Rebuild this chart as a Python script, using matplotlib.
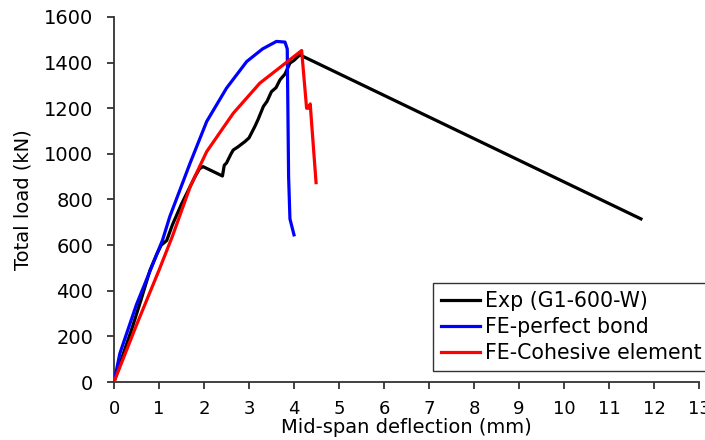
import numpy as np
import matplotlib.pyplot as plt

plt.rcParams['font.family'] = ['DejaVu Sans']

# Exp (G1-600-W)
exp_x = [0, 0.2, 0.4, 0.6, 0.8, 0.95, 1.05, 1.17, 1.3, 1.5, 1.65, 1.8, 1.9, 1.98, 2.41,
         2.45, 2.5, 2.6, 2.65, 2.75, 2.91, 3.0, 3.13, 3.2, 3.32, 3.4, 3.5, 3.6, 3.69,
         3.8, 3.91, 4.0, 4.13, 11.71]
exp_y = [0, 120, 235, 360, 490, 560, 600, 620, 690, 780, 840, 900, 935, 944, 903,
         950, 960, 1000, 1017, 1030, 1054, 1070, 1120, 1150, 1208, 1230, 1273, 1290, 1325,
         1350, 1398, 1410, 1434, 715]

# FE-perfect bond
pb_x = [0, 0.13, 0.5, 1.08, 1.24, 1.69, 2.06, 2.5, 2.95, 3.3, 3.61, 3.8, 3.85, 3.88, 3.91, 4.0]
pb_y = [0, 125, 340, 623, 725, 959, 1142, 1288, 1405, 1460, 1493, 1490, 1460, 900, 715, 645]

# FE-Cohesive element
ce_x = [0, 0.5, 1.0, 1.3, 1.7, 2.06, 2.65, 3.24, 3.76, 4.17, 4.28, 4.33, 4.36, 4.49]
ce_y = [0, 250, 490, 640, 860, 1010, 1178, 1310, 1390, 1453, 1200, 1200, 1219, 874]

fig = plt.figure(figsize=(7.05, 4.4), dpi=100)
ax = fig.add_axes([114/705, 58/440, 585/705, 365/440])

ax.plot(exp_x, exp_y, color='black', lw=2.3, label='Exp (G1-600-W)', zorder=2)
ax.plot(pb_x, pb_y, color='#0000ff', lw=2.3, label='FE-perfect bond', zorder=3)
ax.plot(ce_x, ce_y, color='#ff0000', lw=2.3, label='FE-Cohesive element', zorder=4)

ax.set_xlim(0, 13)
ax.set_ylim(0, 1600)
ax.set_xticks(np.arange(0, 14, 1))
ax.set_yticks(np.arange(0, 1601, 200))
ax.spines['top'].set_visible(False)
ax.spines['right'].set_visible(False)
for s in ['left', 'bottom']:
    ax.spines[s].set_linewidth(1.3)
    ax.spines[s].set_color('#333333')
ax.tick_params(direction='out', length=5, width=1.3, color='#333333')
ax.tick_params(axis='y', labelsize=14, pad=10)
ax.tick_params(axis='x', labelsize=13, pad=8)
ax.set_xlabel('Mid-span deflection (mm)', fontsize=14, labelpad=0)
ax.set_ylabel('Total load (kN)', fontsize=14, labelpad=8)

leg = ax.legend(loc='upper left', bbox_to_anchor=(433/705, 1 - 283/440),
                bbox_transform=fig.transFigure, fontsize=14.8, frameon=True,
                fancybox=False, handlelength=1.9, handletextpad=0.25,
                borderpad=0.4, labelspacing=0.28, borderaxespad=0)
leg.get_frame().set_edgecolor('black')
leg.get_frame().set_linewidth(1.0)

fig.savefig('out.png', dpi=100)
